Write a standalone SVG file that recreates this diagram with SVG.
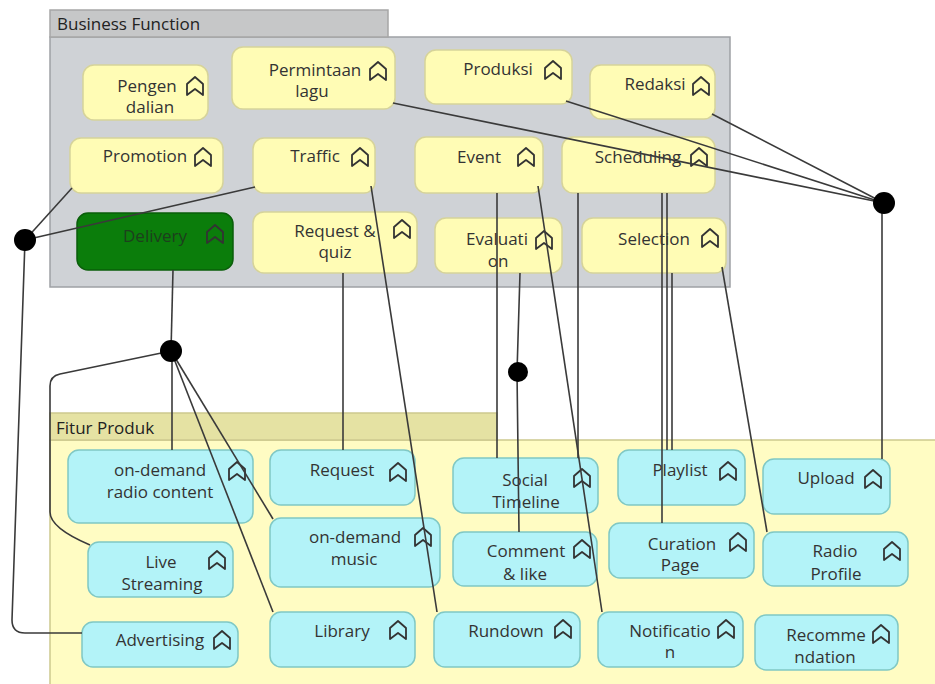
<svg xmlns="http://www.w3.org/2000/svg" width="935" height="684" viewBox="0 0 935 684">
<style>
text{font-family:"Open Sans","Noto Sans","Liberation Sans",sans-serif;font-size:17px;fill:#333;text-anchor:middle}
.hdr{text-anchor:start;fill:#222}
.bf{fill:#fffcb5;stroke:#d6d39a;stroke-width:1.5}
.fp{fill:#b3f3f8;stroke:#80c8c4;stroke-width:1.5}
.dl{fill:#0b7d0b;stroke:#0a5e0a;stroke-width:1.5}
.ic{fill:none;stroke:#333;stroke-width:1.8;stroke-linejoin:round}
.cn{fill:none;stroke:#3a3a3a;stroke-width:1.6}
.jn{fill:#000}
</style>
<defs>
<path id="icon" class="ic" d="M-8,-2 L0,-9 L8,-2 L8,9 L0,3 L-8,9 Z"/>
</defs>
<g id="container-business-function">
<rect x="50" y="37" width="680" height="250" fill="#cfd2d6" stroke="#9ea1a5" stroke-width="1.5"/>
<rect x="50" y="10" width="338" height="27" fill="#c6c7c8" stroke="#a6a6a6" stroke-width="1.5"/>
<text class="hdr" x="57" y="30">Business Function</text>
</g>
<g id="container-fitur-produk">
<rect x="50" y="440" width="890" height="250" fill="#fffcc3" stroke="#cdc98f" stroke-width="1.5"/>
<rect x="50" y="413" width="447" height="27" fill="#e5e2a3" stroke="#cdc98f" stroke-width="1.5"/>
<text class="hdr" x="56" y="434">Fitur Produk</text>
</g>
<g id="bf-pengendalian"><rect class="bf" x="83" y="65" width="125" height="55" rx="11"/><text x="147" y="92">Pengen</text><text x="150" y="113">dalian</text><use href="#icon" x="195" y="86"/></g>
<g id="bf-permintaan-lagu"><rect class="bf" x="232" y="47" width="163" height="62" rx="11"/><text x="315" y="76">Permintaan</text><text x="312" y="97">lagu</text><use href="#icon" x="378" y="71"/></g>
<g id="bf-produksi"><rect class="bf" x="425" y="50" width="147" height="54" rx="11"/><text x="498" y="75">Produksi</text><use href="#icon" x="553" y="70"/></g>
<g id="bf-redaksi"><rect class="bf" x="590" y="65" width="125" height="54" rx="11"/><text x="655" y="90">Redaksi</text><use href="#icon" x="701" y="86"/></g>
<g id="bf-promotion"><rect class="bf" x="70" y="138" width="153" height="55" rx="11"/><text x="145" y="162">Promotion</text><use href="#icon" x="203" y="157"/></g>
<g id="bf-traffic"><rect class="bf" x="253" y="138" width="122" height="55" rx="11"/><text x="315" y="162">Traffic</text><use href="#icon" x="360" y="157"/></g>
<g id="bf-event"><rect class="bf" x="415" y="137" width="128" height="56" rx="11"/><text x="479" y="163">Event</text><use href="#icon" x="526" y="157"/></g>
<g id="bf-scheduling"><rect class="bf" x="562" y="137" width="153" height="56" rx="11"/><text x="638" y="163">Scheduling</text><use href="#icon" x="699" y="157"/></g>
<g id="bf-delivery"><rect class="dl" x="77" y="213" width="156" height="57" rx="11"/><text x="155" y="242" style="fill:#1d3f1d">Delivery</text><use href="#icon" x="215" y="234"/></g>
<g id="bf-request-quiz"><rect class="bf" x="253" y="212" width="164" height="61" rx="11"/><text x="335" y="237">Request &amp;</text><text x="335" y="258">quiz</text><use href="#icon" x="402" y="229"/></g>
<g id="bf-evaluation"><rect class="bf" x="435" y="218" width="127" height="55" rx="11"/><text x="497" y="245">Evaluati</text><text x="498" y="267">on</text><use href="#icon" x="544" y="240"/></g>
<g id="bf-selection"><rect class="bf" x="582" y="218" width="144" height="55" rx="11"/><text x="654" y="245">Selection</text><use href="#icon" x="710" y="238"/></g>
<g id="fp-ondemand-radio"><rect class="fp" x="68" y="450" width="185" height="73" rx="11"/><text x="160" y="476">on-demand</text><text x="160" y="498">radio content</text><use href="#icon" x="237" y="471"/></g>
<g id="fp-request"><rect class="fp" x="270" y="450" width="145" height="55" rx="11"/><text x="342" y="476">Request</text><use href="#icon" x="398" y="472"/></g>
<g id="fp-live-streaming"><rect class="fp" x="88" y="542" width="145" height="55" rx="11"/><text x="161" y="568">Live</text><text x="162" y="590">Streaming</text><use href="#icon" x="217" y="560"/></g>
<g id="fp-ondemand-music"><rect class="fp" x="270" y="518" width="170" height="69" rx="11"/><text x="355" y="543">on-demand</text><text x="354" y="565">music</text><use href="#icon" x="423" y="537"/></g>
<g id="fp-advertising"><rect class="fp" x="82" y="622" width="156" height="45" rx="11"/><text x="160" y="646">Advertising</text><use href="#icon" x="222" y="640"/></g>
<g id="fp-library"><rect class="fp" x="270" y="612" width="145" height="55" rx="11"/><text x="342" y="637">Library</text><use href="#icon" x="398" y="630"/></g>
<g id="fp-social-timeline"><rect class="fp" x="453" y="458" width="145" height="55" rx="11"/><text x="525" y="486">Social</text><text x="526" y="508">Timeline</text><use href="#icon" x="582" y="478"/></g>
<g id="fp-playlist"><rect class="fp" x="618" y="450" width="127" height="55" rx="11"/><text x="680" y="476">Playlist</text><use href="#icon" x="728" y="471"/></g>
<g id="fp-upload"><rect class="fp" x="763" y="459" width="127" height="55" rx="11"/><text x="826" y="484">Upload</text><use href="#icon" x="873" y="479"/></g>
<g id="fp-comment-like"><rect class="fp" x="453" y="532" width="144" height="54" rx="11"/><text x="526" y="557">Comment</text><text x="525" y="580">&amp; like</text><use href="#icon" x="582" y="549"/></g>
<g id="fp-curation-page"><rect class="fp" x="609" y="523" width="145" height="55" rx="11"/><text x="682" y="550">Curation</text><text x="680" y="571">Page</text><use href="#icon" x="738" y="542"/></g>
<g id="fp-radio-profile"><rect class="fp" x="763" y="532" width="145" height="54" rx="11"/><text x="835" y="557">Radio</text><text x="836" y="580">Profile</text><use href="#icon" x="892" y="551"/></g>
<g id="fp-rundown"><rect class="fp" x="434" y="612" width="146" height="55" rx="11"/><text x="506" y="637">Rundown</text><use href="#icon" x="563" y="629"/></g>
<g id="fp-notification"><rect class="fp" x="598" y="612" width="145" height="55" rx="11"/><text x="670" y="637">Notificatio</text><text x="670" y="658">n</text><use href="#icon" x="726" y="629"/></g>
<g id="fp-recommendation"><rect class="fp" x="755" y="615" width="143" height="55" rx="11"/><text x="826" y="641">Recomme</text><text x="825" y="663">ndation</text><use href="#icon" x="881" y="634"/></g>
<g id="connectors">
<path class="cn" d="M393,103 L884,203"/>
<path class="cn" d="M566,101 L884,203"/>
<path class="cn" d="M712,114 L884,203"/>
<path class="cn" d="M882,203 L882,459"/>
<path class="cn" d="M25,240 L72,188"/>
<path class="cn" d="M25,240 L255,187"/>
<path class="cn" d="M25,240 L12,620 Q12,633 25,633 L82,633"/>
<path class="cn" d="M173,270 L171,351"/>
<path class="cn" d="M171,351 L60,374 Q50,376 50,386 L50,512 Q50,528 90,545"/>
<path class="cn" d="M172,351 L172,450"/>
<path class="cn" d="M171,351 L273,612"/>
<path class="cn" d="M171,351 L273,519"/>
<path class="cn" d="M343,273 L343,450"/>
<path class="cn" d="M371,186 L437,612"/>
<path class="cn" d="M497,193 L497,458"/>
<path class="cn" d="M538,186 L602,612"/>
<path class="cn" d="M578,193 L578,458"/>
<path class="cn" d="M520,273 L517,372 L519,532"/>
<path class="cn" d="M662,193 L662,523"/>
<path class="cn" d="M667,193 L667,450"/>
<path class="cn" d="M672,273 L672,450"/>
<path class="cn" d="M722,267 L767,532"/>
<circle class="jn" cx="884" cy="203" r="11"/>
<circle class="jn" cx="25" cy="240" r="11"/>
<circle class="jn" cx="171" cy="351" r="11"/>
<circle class="jn" cx="518" cy="372" r="10"/>
</g>
</svg>
